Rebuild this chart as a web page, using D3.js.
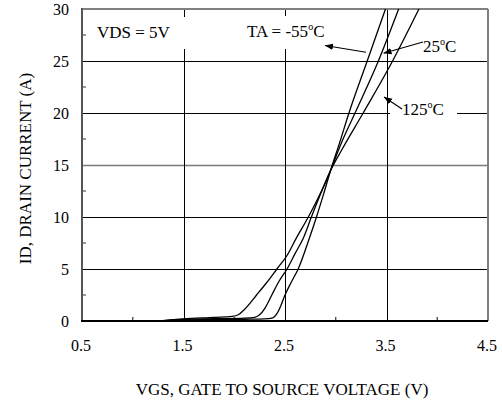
<!DOCTYPE html>
<html><head><meta charset="utf-8">
<script src="https://cdn.jsdelivr.net/npm/d3@7"></script>
<style>body{margin:0;background:#fff}svg{display:block}text{font-family:"Liberation Serif","Times New Roman",serif;fill:#000}</style>
</head><body><svg id="c" width="502" height="406"></svg>
<script>
const xTicks = [0.5, 1.5, 2.5, 3.5, 4.5];
const xMinor = [1.0, 2.0, 3.0, 4.0];
const yTicks = [0, 5, 10, 15, 20, 25, 30];
const yMinor = [2.5, 7.5, 12.5, 17.5, 22.5, 27.5];
const vgs125 = [1.27,1.5,1.8,1.98,2.04,2.1,2.22,2.32,2.42,2.52,2.61,2.73,2.85,2.95,3.05,3.27,3.56,3.82];
const id125  = [0,0.2,0.35,0.45,0.6,1.1,2.5,3.7,5,6.3,7.95,10,12.3,14.5,16.3,20,25,30];
const vgs25 = [1.27,1.5,1.8,2.1,2.2,2.25,2.3,2.37,2.44,2.52,2.6,2.68,2.76,2.85,2.95,3.05,3.19,3.42,3.62];
const id25  = [0,0.15,0.22,0.28,0.35,0.6,1.2,2.5,3.8,5,6.5,7.95,10,12.2,14.5,17,20,25,30];
const vgsM55 = [1.27,1.5,1.8,2.1,2.3,2.38,2.42,2.46,2.5,2.56,2.63,2.74,2.81,2.88,2.95,3.04,3.13,3.31,3.49];
const idM55  = [0,0.1,0.13,0.17,0.2,0.3,0.7,1.5,2.5,3.7,5,7.95,10,12.2,14.5,17.2,20,25,30];
const xTitle = "VGS, GATE TO SOURCE VOLTAGE (V)";
const yTitle = "ID, DRAIN CURRENT (A)";

const svg = d3.select("#c");
const x = d3.scaleLinear().domain([0.5, 4.5]).range([82, 488]);
const y = d3.scaleLinear().domain([0, 30]).range([321, 9]);

// gridlines
svg.append("g").selectAll("line").data(yTicks.filter(d => d > 0 && d < 30)).join("line")
  .attr("x1", x(0.5)).attr("x2", x(4.5)).attr("y1", d => Math.round(y(d)) + 0.5).attr("y2", d => Math.round(y(d)) + 0.5)
  .attr("stroke", d => d === 15 ? "#7a7a7a" : "#000").attr("stroke-width", d => d === 15 ? 1.6 : 1);
svg.append("g").selectAll("line").data(xTicks.filter(d => d > 0.5 && d < 4.5)).join("line")
  .attr("y1", y(0)).attr("y2", y(30)).attr("x1", d => Math.round(x(d)) + 0.5).attr("x2", d => Math.round(x(d)) + 0.5)
  .attr("stroke", "#000").attr("stroke-width", 1);

// minor ticks
svg.append("g").selectAll("line").data(yMinor).join("line")
  .attr("x1", x(0.5)).attr("x2", x(0.5) + 4).attr("y1", d => y(d)).attr("y2", d => y(d))
  .attr("stroke", "#555").attr("stroke-width", 1.2);
svg.append("g").selectAll("line").data(xMinor).join("line")
  .attr("y1", y(0)).attr("y2", y(0) - 4).attr("x1", d => x(d)).attr("x2", d => x(d))
  .attr("stroke", "#333").attr("stroke-width", 1.2);

// frame
svg.append("line").attr("x1", x(0.5)).attr("x2", x(4.5)).attr("y1", y(30)).attr("y2", y(30)).attr("stroke", "#808080").attr("stroke-width", 2);
svg.append("line").attr("x1", x(4.5)).attr("x2", x(4.5)).attr("y1", y(30)).attr("y2", y(0)).attr("stroke", "#808080").attr("stroke-width", 2);
svg.append("line").attr("x1", x(0.5)).attr("x2", x(0.5)).attr("y1", y(30) - 1).attr("y2", y(0) + 1).attr("stroke", "#555").attr("stroke-width", 2);
svg.append("line").attr("x1", x(0.5) - 1).attr("x2", x(4.5)).attr("y1", y(0)).attr("y2", y(0)).attr("stroke", "#000").attr("stroke-width", 2);

// curves
const series = [[vgs125, id125], [vgs25, id25], [vgsM55, idM55]];
const line = d3.line().x(d => x(d[0])).y(d => y(d[1])).curve(d3.curveMonotoneX);
svg.append("g").selectAll("path").data(series).join("path")
  .attr("d", s => line(s[0].map((v, i) => [v, s[1][i]])))
  .attr("fill", "none").attr("stroke", "#000").attr("stroke-width", 1.3);

// tick labels
svg.append("g").selectAll("text").data(yTicks).join("text")
  .attr("x", 69).attr("y", d => y(d) + 5.5).attr("text-anchor", "end").attr("font-size", 16).text(d => d);
svg.append("g").selectAll("text").data(xTicks).join("text")
  .attr("x", d => x(d) - 1).attr("y", 351).attr("text-anchor", "middle").attr("font-size", 16).text(d => d.toFixed(1));

// titles
svg.append("text").attr("x", 282).attr("y", 395).attr("text-anchor", "middle").attr("font-size", 17).text(xTitle);
svg.append("text").attr("transform", "translate(31,168.5) rotate(-90)").attr("text-anchor", "middle").attr("font-size", 17).text(yTitle);

// label boxes
const boxes = [[88, 17, 102, 32], [243, 16, 87, 33], [390, 104, 67, 17]];
svg.append("g").selectAll("rect").data(boxes).join("rect")
  .attr("x", d => d[0]).attr("y", d => d[1]).attr("width", d => d[2]).attr("height", d => d[3]).attr("fill", "#fff");

function degLabel(px, py, pre) {
  const t = svg.append("text").attr("x", px).attr("y", py).attr("font-size", 17);
  t.append("tspan").text(pre);
  t.append("tspan").attr("font-size", 10).attr("dy", -7).text("o");
  t.append("tspan").attr("dy", 7).text("C");
}
svg.append("text").attr("x", 97).attr("y", 38).attr("font-size", 17).text("VDS = 5V");
degLabel(247, 36.5, "TA = -55");
degLabel(423, 51.5, "25");
degLabel(402, 115, "125");

// arrows
svg.append("defs").append("marker").attr("id", "ah").attr("viewBox", "0 0 10 10").attr("refX", 10).attr("refY", 5)
  .attr("markerWidth", 8).attr("markerHeight", 8).attr("markerUnits", "userSpaceOnUse").attr("orient", "auto")
  .append("path").attr("d", "M0,1 L10,5 L0,9 Z").attr("fill", "#000");
const arrows = [[366, 52.3, 325, 45.5], [423, 42, 383.5, 53.3], [402, 109, 384, 97]];
svg.append("g").selectAll("line").data(arrows).join("line")
  .attr("x1", d => d[0]).attr("y1", d => d[1]).attr("x2", d => d[2]).attr("y2", d => d[3])
  .attr("stroke", "#000").attr("stroke-width", 1.1).attr("marker-end", "url(#ah)");
</script></body></html>
